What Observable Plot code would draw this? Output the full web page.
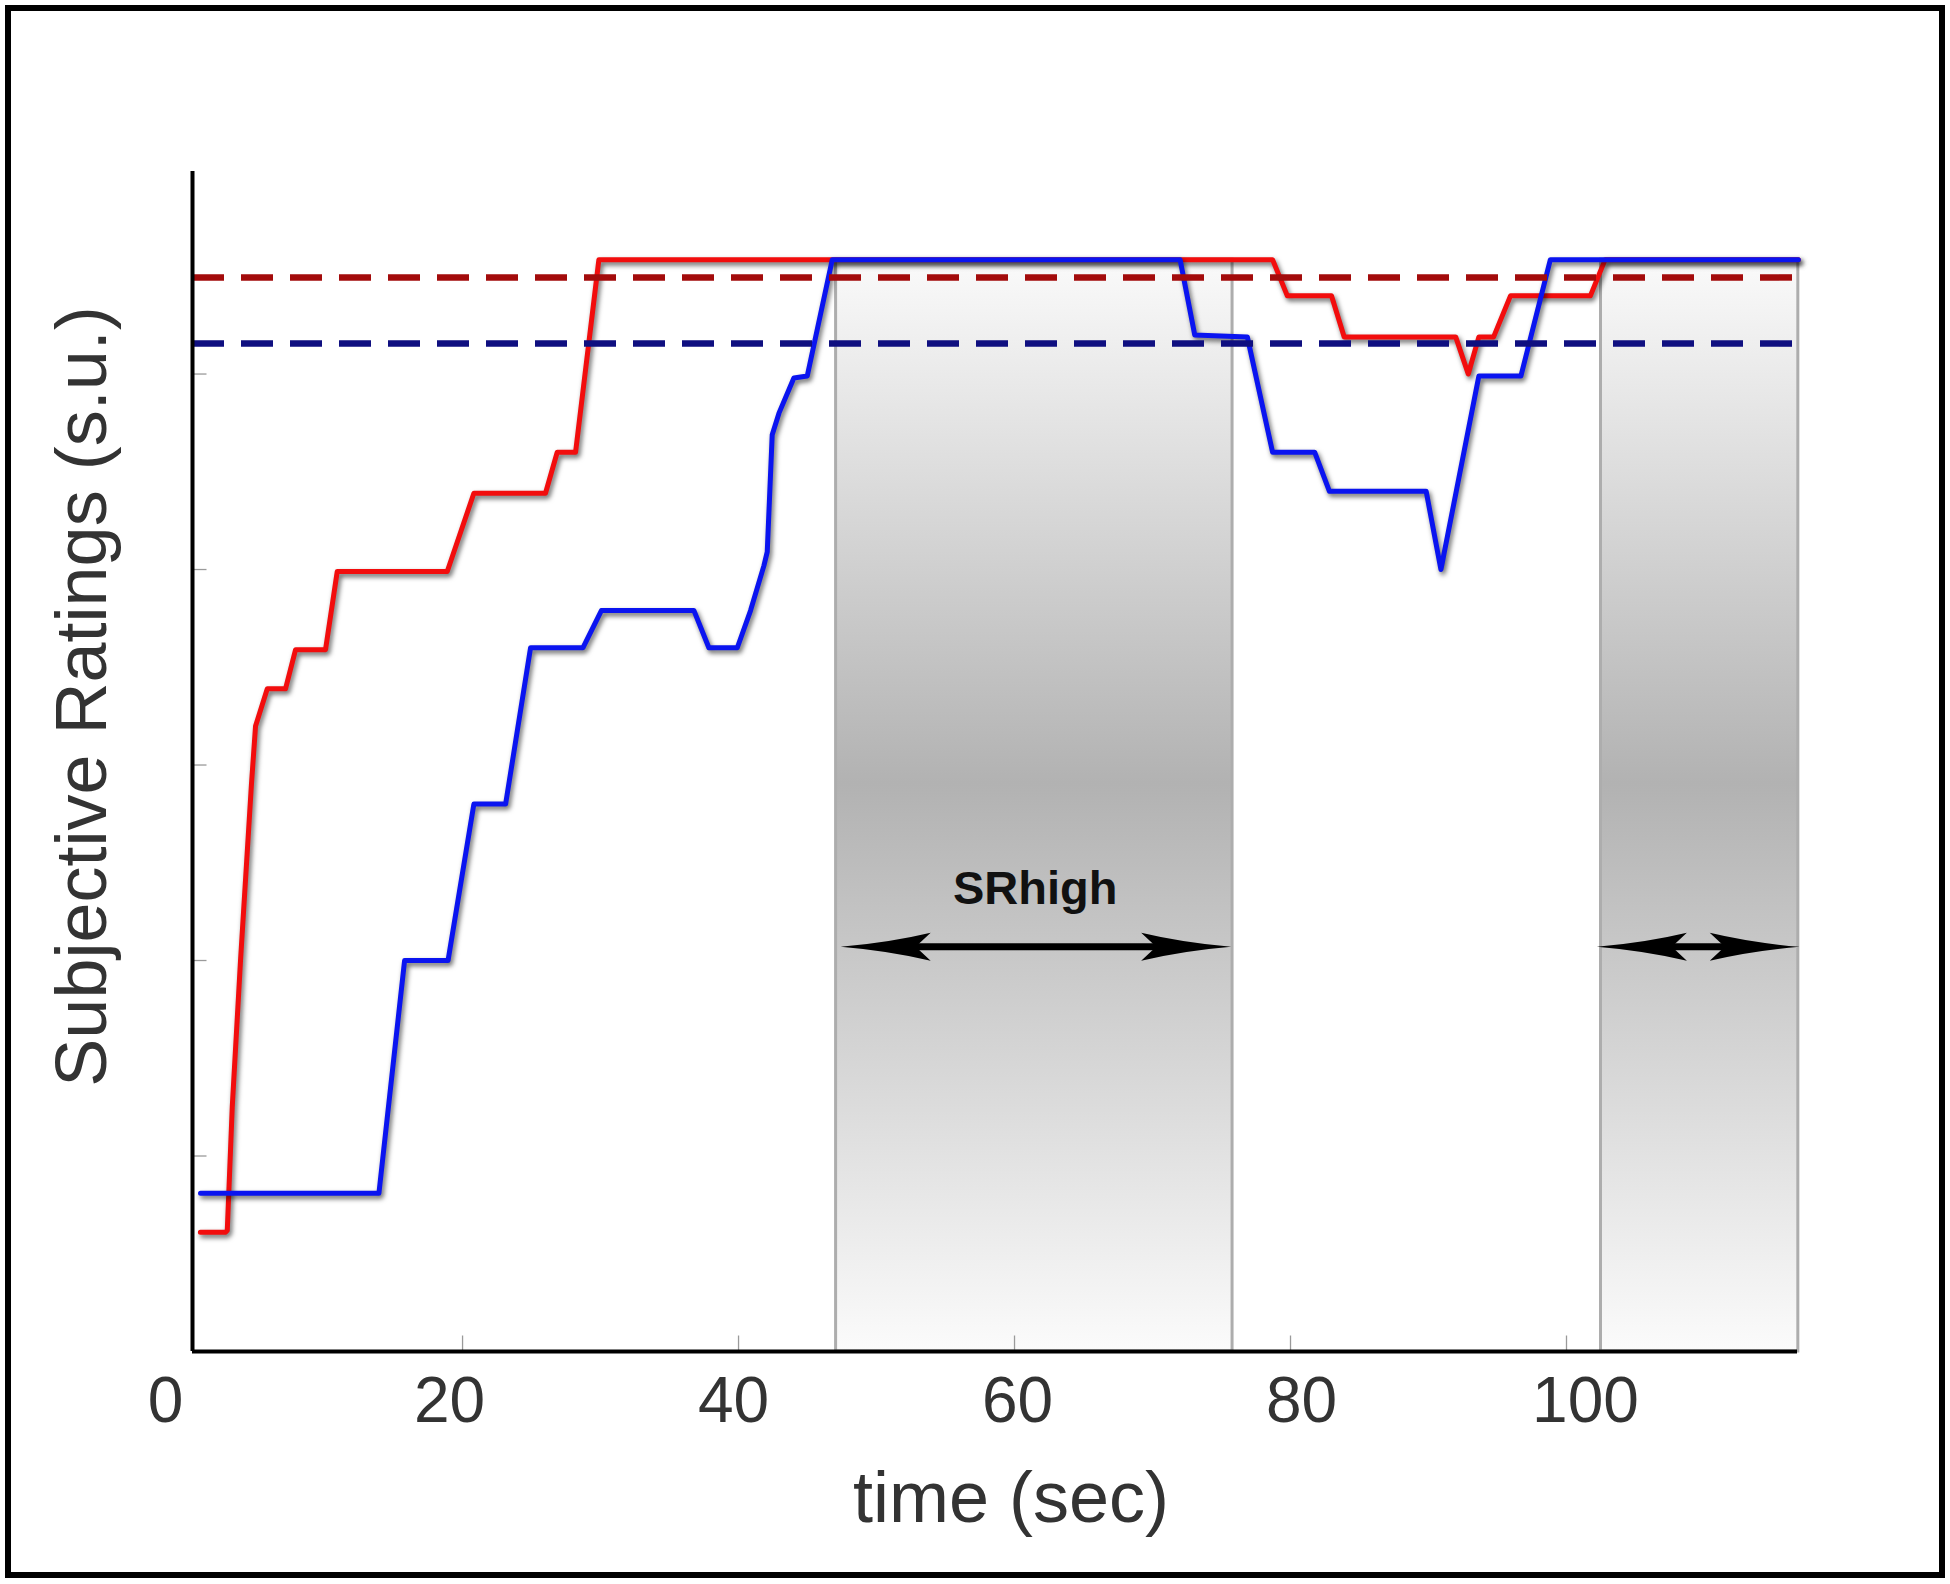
<!DOCTYPE html>
<html>
<head>
<meta charset="utf-8">
<script src="https://cdn.jsdelivr.net/npm/d3@7"></script>
<script src="https://cdn.jsdelivr.net/npm/@observablehq/plot@0.6"></script>
<style>
  html, body { margin: 0; padding: 0; background: #fff; }
  #wrap { position: relative; width: 1950px; height: 1584px; overflow: hidden; }
  #frame { position: absolute; left: 5px; top: 5px; width: 1940px; height: 1573px;
           box-sizing: border-box; border: 6px solid #000; pointer-events: none; }
  svg g[aria-label="line"] { filter: drop-shadow(2px 3px 2.5px rgba(0,0,0,0.6)); }
</style>
</head>
<body>
<div id="wrap"><div id="chart"></div><div id="frame"></div></div>
<script>
// ---- data ----
const redT  = [1.0, 2.83, 2.95, 3.31, 3.91, 4.7, 5.0, 5.85, 7.17, 7.9, 10.07, 10.92, 18.89, 20.82, 26.01, 26.86, 28.19, 29.88, 78.7, 79.77, 82.97, 83.89, 91.97, 92.88, 93.65, 94.72, 95.94, 101.73, 102.8, 116.8];
const redV  = [0.61, 0.61, 0.62, 1.25, 2.0, 2.9, 3.2, 3.39, 3.39, 3.59, 3.59, 3.99, 3.99, 4.39, 4.39, 4.6, 4.6, 5.585, 5.585, 5.4, 5.4, 5.19, 5.19, 5.0, 5.19, 5.19, 5.4, 5.4, 5.585, 5.585];

const blueT = [1.01, 13.94, 15.8, 18.95, 20.82, 23.12, 24.93, 28.73, 30.06, 36.77, 37.85, 39.91, 40.87, 41.84, 42.08, 42.44, 42.93, 44.01, 44.98, 46.79, 72.0, 73.06, 76.87, 78.7, 81.75, 82.82, 89.83, 90.9, 93.65, 96.7, 98.83, 116.8];
const blueV = [0.81, 0.81, 2.0, 2.0, 2.8, 2.8, 3.6, 3.6, 3.79, 3.79, 3.6, 3.6, 3.79, 4.02, 4.09, 4.69, 4.8, 4.98, 4.99, 5.585, 5.585, 5.2, 5.19, 4.6, 4.6, 4.4, 4.4, 4.0, 4.99, 4.99, 5.585, 5.585];

const meanNames  = ["red", "blue"];
const meanValues = [5.494, 5.156];

const bandStart = [47.07, 102.5];
const bandEnd   = [75.8, 116.8];
const bandTop   = 5.585;

const arrowStart = [47.4, 102.2];
const arrowEnd   = [75.7, 116.9];
const arrowLevel = 2.07;

const srLabelText = ["SRhigh"];
const srLabelX = [61.5];
const srLabelY = [2.368];

const xTickLabels = [0, 20, 40, 60, 80, 100];
const xTickMarks  = [20, 40, 60, 80, 100];
const yTickMarks  = [1, 2, 3, 4, 5];

const xTitle = "time (sec)";
const yTitle = "Subjective Ratings (s.u.)";

const xDomain = [0.43, 116.74];
const yDomain = [0, 6.036];

// ---- derived tables ----
const red  = redT.map((t, i) => ({t, v: redV[i]}));
const blue = blueT.map((t, i) => ({t, v: blueV[i]}));
const means = meanNames.map((n, i) => ({n, v: meanValues[i]}));
const bands = bandStart.map((s, i) => ({x1: s, x2: bandEnd[i]}));
const arrows = arrowStart.map((s, i) => ({x1: s, x2: arrowEnd[i], y: arrowLevel}));
const srLabels = srLabelText.map((s, i) => ({label: s, x: srLabelX[i], y: srLabelY[i]}));

// ---- custom symbols ----
const headLeft = {draw(c) {
  c.moveTo(0, 0); c.quadraticCurveTo(48, -4, 90, -14); c.lineTo(75, 0);
  c.lineTo(90, 14); c.quadraticCurveTo(48, 4, 0, 0); c.closePath();
}};
const headRight = {draw(c) {
  c.moveTo(0, 0); c.quadraticCurveTo(-48, -4, -90, -14); c.lineTo(-75, 0);
  c.lineTo(-90, 14); c.quadraticCurveTo(-48, 4, 0, 0); c.closePath();
}};
const tickUp = {draw(c) { c.moveTo(0, 0); c.lineTo(0, -16); }};
const tickRight = {draw(c) { c.moveTo(0, 0); c.lineTo(14, 0); }};

const font = "'Liberation Sans', Arial, Helvetica, sans-serif";
// the original figure's tick labels are spread slightly wider than its ticks
const labelSpread = v => 0.4 * v - 21;

const defs = () => {
  const ns = "http://www.w3.org/2000/svg";
  const d = document.createElementNS(ns, "defs");
  const g = document.createElementNS(ns, "linearGradient");
  g.setAttribute("id", "srShade");
  g.setAttribute("x1", "0"); g.setAttribute("y1", "0");
  g.setAttribute("x2", "0"); g.setAttribute("y2", "1");
  [["0", "#fafafa"], ["0.48", "#b2b2b2"], ["1", "#fbfbfb"]].forEach(([o, c]) => {
    const s = document.createElementNS(ns, "stop");
    s.setAttribute("offset", o); s.setAttribute("stop-color", c);
    g.appendChild(s);
  });
  d.appendChild(g);
  return d;
};

const chart = Plot.plot({
  width: 1950,
  height: 1584,
  marginTop: 171,
  marginRight: 153,
  marginBottom: 233,
  marginLeft: 192,
  style: {fontFamily: font, background: "white", overflow: "visible"},
  x: {domain: xDomain},
  y: {domain: yDomain, axis: null},
  marks: [
    defs,
    Plot.rect(bands, {x1: "x1", x2: "x2", y1: 0, y2: bandTop, fill: "url(#srShade)", stroke: "#adadad", strokeWidth: 3}),
    Plot.dot(xTickMarks, {x: d => d, frameAnchor: "bottom", symbol: tickUp, stroke: "#9a9a9a", strokeWidth: 1.3, fill: "none"}),
    Plot.dot(yTickMarks, {y: d => d, frameAnchor: "left", symbol: tickRight, stroke: "#9a9a9a", strokeWidth: 1.3, fill: "none"}),
    Plot.line(red,  {x: "t", y: "v", stroke: "#f20d0d", strokeWidth: 5, strokeLinejoin: "round"}),
    Plot.line(blue, {x: "t", y: "v", stroke: "#0a14f0", strokeWidth: 5, strokeLinejoin: "round"}),
    Plot.ruleY(means, {y: "v", stroke: d => d.n === "red" ? "#a30b0b" : "#0f0f80", strokeWidth: 6.5, strokeDasharray: "32,17"}),
    Plot.ruleX([xDomain[0]], {stroke: "#000", strokeWidth: 4}),
    Plot.ruleY([yDomain[0]], {stroke: "#000", strokeWidth: 4}),
    Plot.ruleY(arrows, {y: "y", x1: "x1", x2: "x2", insetLeft: 60, insetRight: 60, stroke: "#000", strokeWidth: 7}),
    Plot.dot(arrows, {x: "x1", y: "y", symbol: headLeft, fill: "#000", stroke: "none"}),
    Plot.dot(arrows, {x: "x2", y: "y", symbol: headRight, fill: "#000", stroke: "none"}),
    Plot.text(srLabels, {x: "x", y: "y", text: "label", fontSize: 47, fontWeight: "bold", fill: "#111", fontFamily: font}),
    ...xTickLabels.map(v => Plot.axisX({ticks: [v], tickSize: 0, tickPadding: 25, dx: labelSpread(v), fontSize: 64, fill: "#333", label: null, tickFormat: d => String(d), fontFamily: font})),
    Plot.text([xTitle], {text: d => d, frameAnchor: "bottom", textAnchor: "middle", lineAnchor: "middle", dx: 16, dy: 147, fontSize: 72, fill: "#333", fontFamily: font}),
    Plot.text([yTitle], {text: d => d, frameAnchor: "left", textAnchor: "middle", lineAnchor: "middle", rotate: -90, dx: -110, dy: -65, fontSize: 72, fill: "#333", fontFamily: font})
  ]
});
document.getElementById("chart").appendChild(chart);
</script>
</body>
</html>
